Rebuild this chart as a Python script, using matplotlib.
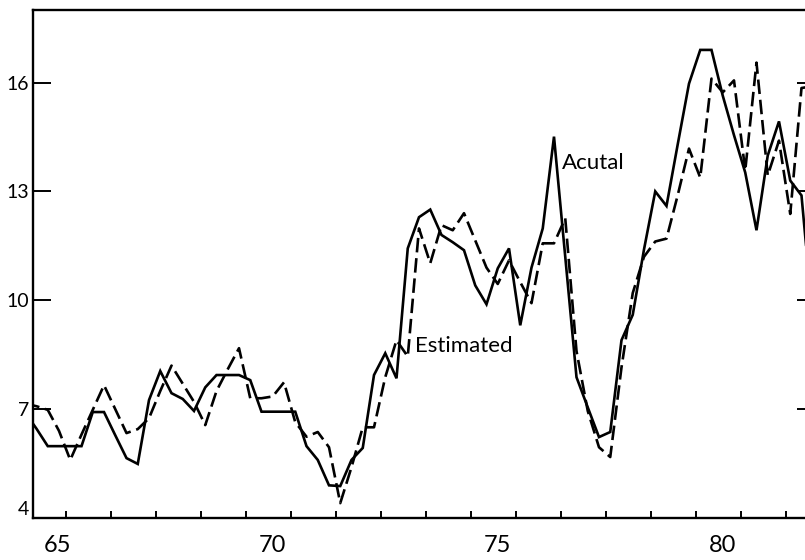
import numpy as np
import matplotlib
matplotlib.use("Agg")
import matplotlib.pyplot as plt
from matplotlib.ticker import FixedLocator, NullFormatter

# ---- data (quarterly, first point at 1964.50) ----
first_quarter = 64.5
actual = [6.9, 6.46, 5.98, 5.98, 5.98, 5.98, 6.92, 6.92, 6.28, 5.65,
          5.49, 7.25, 8.05, 7.44, 7.28, 6.95, 7.6, 7.94, 7.94, 7.94,
          7.8, 6.93, 6.93, 6.93, 6.93, 5.98, 5.6, 4.9, 4.88, 5.6,
          5.93, 7.94, 8.54, 7.85, 11.43, 12.29, 12.5, 11.8, 11.6, 11.38,
          10.41, 9.89, 10.88, 11.43, 9.31, 10.9, 11.98, 14.51, 11.2, 7.88,
          7.05, 6.23, 6.37, 8.9, 9.6, 11.4, 13.0, 12.6, 14.3, 15.97,
          16.9, 16.9, 15.64, 14.55, 13.52, 11.93, 13.99, 14.93, 13.3, 12.89,
          9.5]
estimated = [7.15, 7.08, 6.98, 6.4, 5.6, 6.3, 6.98, 7.66, 7.0, 6.34,
             6.45, 6.75, 7.5, 8.2, 7.7, 7.2, 6.56, 7.5, 8.1, 8.68,
             7.3, 7.3, 7.35, 7.74, 6.64, 6.24, 6.37, 5.95, 4.41, 5.4,
             6.5, 6.5, 7.88, 8.9, 8.45, 11.98, 11.02, 12.07, 11.93, 12.4,
             11.65, 10.9, 10.45, 11.1, 10.5, 9.92, 11.57, 11.57, 12.26, 8.6,
             6.95, 5.95, 5.68, 8.15, 10.2, 11.2, 11.62, 11.7, 12.9, 14.18,
             13.38, 16.11, 15.73, 16.06, 13.58, 16.55, 13.44, 14.4, 12.38, 15.85,
             15.9]
ytick_values = [4, 7, 10, 13, 16]
right_ticks = [7, 10, 13, 16]
xtick_labels = ["65", "70", "75", "80"]
xtick_pos = [65.22, 70, 75, 80]
year_marks = [65.41, 66.41, 67.41, 68.41, 69.41, 70.41, 71.41, 72.41, 73.41,
              74.41, 75.41, 76.41, 77.41, 78.41, 79.41, 80.41, 81.41]

plt.rcParams["font.family"] = ["Lato", "DejaVu Sans"]

t = first_quarter + 0.25 * np.arange(len(actual))

fig = plt.figure(figsize=(8.05, 5.6), dpi=100)
ax = fig.add_axes([33 / 805, 42 / 560, 1 - 33 / 805, 508 / 560])

ax.plot(t, actual, color="black", lw=1.9, solid_joinstyle="miter")
ax.plot(t, estimated, color="black", lw=1.9, linestyle=(0, (5.5, 2.2)))

ax.set_xlim(64.672, 81.828)
ax.set_ylim(4, 18)

for s in ["left", "bottom", "top"]:
    ax.spines[s].set_linewidth(1.7)
ax.spines["right"].set_visible(False)

ax.set_yticks(ytick_values)
ax.set_yticklabels([str(v) for v in ytick_values])
ax.tick_params(axis="y", direction="in", length=13, width=1.4, labelsize=14,
               pad=3, right=False)
ylabels = ax.get_yticklabels()
ylabels[0].set_verticalalignment("bottom")

ax.xaxis.set_major_locator(FixedLocator(xtick_pos))
ax.set_xticklabels(xtick_labels)
ax.xaxis.set_minor_locator(FixedLocator(year_marks))
ax.xaxis.set_minor_formatter(NullFormatter())
ax.tick_params(axis="x", which="major", length=0, labelsize=17, pad=12)
ax.tick_params(axis="x", which="minor", direction="in", length=5, width=1.4)

ax2 = ax.twinx()
ax2.set_ylim(4, 18)
ax2.set_yticks(right_ticks)
ax2.tick_params(axis="y", direction="in", length=6, width=1.4,
                labelright=False)
for s in ax2.spines.values():
    s.set_visible(False)

ax.text(76.43, 13.63, "Acutal", fontsize=16, va="baseline", ha="left")
ax.text(73.17, 8.57, "Estimated", fontsize=16, va="baseline", ha="left")

fig.savefig("out.png", dpi=100)
